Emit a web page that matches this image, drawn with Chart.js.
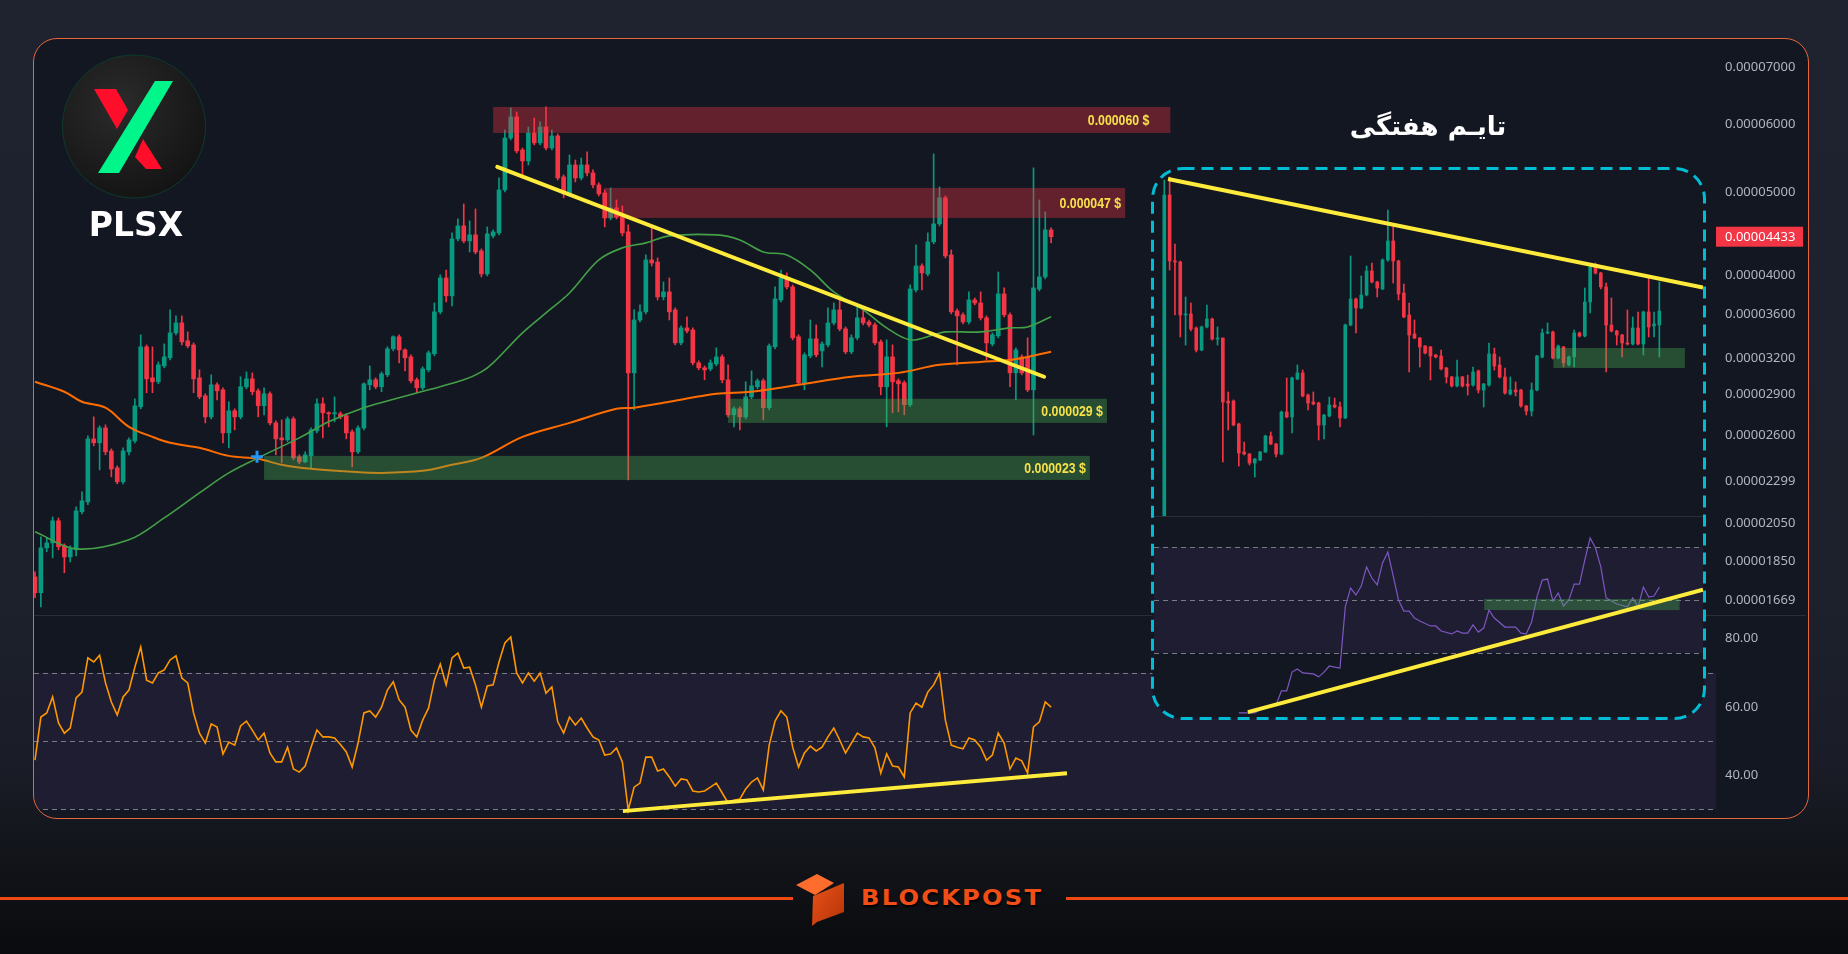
<!DOCTYPE html>
<html>
<head>
<meta charset="utf-8">
<script src="https://cdn.jsdelivr.net/npm/chart.js@4.4.1/dist/chart.umd.min.js"></script>
<style>
  html, body { margin: 0; padding: 0; }
  body {
    width: 1848px; height: 954px; overflow: hidden; position: relative;
    background: linear-gradient(180deg, #1f2330 0%, #1d212c 62%, #1a1d27 80%, #12141a 90%, #0a0b0e 100%);
    font-family: "Noto Sans", sans-serif;
  }
  #panel {
    position: absolute; left: 33px; top: 38px; width: 1774px; height: 779px;
    border: 1px solid #e5673c; border-radius: 24px; background: #131722; overflow: hidden;
  }
  canvas { position: absolute; display: block; }
  #ticker {
    position: absolute; left: 52px; top: 169px; width: 100px; text-align: center;
    font: bold 33px/33px "DejaVu Sans", sans-serif; color: #fff;
  }
  #title {
    position: absolute; left: 1300px; top: 108px; width: 256px; text-align: center;
    font: bold 26px/36px "DejaVu Sans", sans-serif; color: #fff; direction: rtl;
  }
  .rule { position: absolute; top: 897px; height: 3px; background: #ee4a12; }
  #bpText {
    position: absolute; left: 861px; top: 887px; font: bold 22px/22px "DejaVu Sans", sans-serif;
    letter-spacing: 2px; color: #f04e16; transform: scaleX(1.1); transform-origin: left center;
    text-shadow: 1px 2px 2px #000;
  }
</style>
</head>
<body>
<div id="panel">
  <canvas id="priceChart" width="1774" height="576" style="left:0;top:0"></canvas>
  <canvas id="rsiChart" width="1774" height="203" style="left:0;top:576px"></canvas>
  <svg width="146" height="146" viewBox="0 0 146 146" style="position:absolute;left:27px;top:15px">
    <defs>
      <radialGradient id="cg" cx="40%" cy="35%" r="70%">
        <stop offset="0" stop-color="#2b2b2b"/><stop offset="1" stop-color="#131313"/>
      </radialGradient>
    </defs>
    <circle cx="73" cy="72.5" r="71.5" fill="url(#cg)" stroke="#0e3b2c" stroke-width="1"/>
    <polygon points="33,35 55,35 67,56 56,75" fill="#ff0d2a"/>
    <polygon points="74,103 82,85 101,115 85,115" fill="#ff0d2a"/>
    <polygon points="94,27 112,27 58,119 37,119" fill="#00f58a"/>
  </svg>
  <div id="ticker">PLSX</div>
</div>

<svg width="557" height="555" style="position:absolute;left:1150px;top:166px">
  <rect x="2.5" y="2.5" width="552" height="550" rx="30" fill="#131722" stroke="#00bcd4" stroke-width="3" stroke-dasharray="12 7"/>
</svg>
<canvas id="wPriceChart" width="549" height="346" style="left:1154px;top:170px"></canvas>
<canvas id="wRsiChart" width="549" height="201" style="left:1154px;top:516px"></canvas>
<div id="title">تایـم هفتگی</div>

<div class="rule" style="left:0;width:793px"></div>
<div class="rule" style="left:1066px;width:782px"></div>
<svg width="60" height="60" style="position:absolute;left:790px;top:870px">
  <defs>
    <linearGradient id="bg1" x1="0" y1="0" x2="1" y2="1">
      <stop offset="0" stop-color="#e8521a"/><stop offset="1" stop-color="#b53306"/>
    </linearGradient>
  </defs>
  <polygon points="6,15 27,4 44,13 25,25" fill="#ff6d2e"/>
  <polygon points="23,26 54,13 54,42 27,52 22,56" fill="url(#bg1)"/>
</svg>
<div id="bpText">BLOCKPOST</div>

<script>
// prices are in units of 1e-8
const openP = [1776,1702,1920,1946,2065,1931,1874,1910,2116,2173, 2574,2547,2651,2492,2381,2293,2486,2560,2806,3297,
  3033,3001,3132,3201,3423,3516,3350,3314,3033,2890, 2731,2977,2937,2616,2776,2731,2961,3025,2929,2814,
  2906,2687,2581,2567,2716,2453,2420,2459,2630,2829, 2761,2754,2754,2739,2623,2486,2651,2977,3017,2961,
  3058,3279,3387,3270,3209,3017,2953,3099,3236,3622, 3968,3781,4407,4564,4383,4455,4267,4011,4443,4479,
  5027,5780,6118,5598,5435,5860,5705,5955,5628,5813, 5207,4974,5377,5192,5377,5263,5096,4987,4663,4790,
  4676,4491,3074,3544,3622,4165,4142,3771,3822,3641, 3332,3469,3450,3158,3116,3107,3149,3209,3017,2746,
  2791,2731,2882,2961,3009,2799,3297,3740,3968,3873, 3387,2993,3218,3368,3261,3314,3516,3641,3460,3253,
  3378,3564,3525,3497,3341,2961,3209,3009,2993,2821, 3842,4098,4011,4372,4589,4922,4221,3631,3593,3525,
  3740,3710,3564,3323,3396,3801,3593,3074,3209,3209, 2937,3852,3979,4515];
const highP = [1800,1978,1973,2087,2081,1941,1931,2144,2232,2595, 2731,2666,2673,2506,2394,2513,2581,2867,3405,3314,
  3297,3166,3323,3641,3583,3583,3432,3332,3099,2906, 3058,2993,2953,2844,2791,3042,3082,3074,2945,2953,
  2922,2702,2709,2731,2731,2466,2486,2651,2867,2875, 2768,2882,2768,2754,2637,2666,2993,3132,3033,3082,
  3297,3396,3405,3279,3227,3033,3124,3261,3710,4001, 4054,4479,4651,4841,4626,4777,4290,4552,4515,5192,
  5907,6267,6200,5628,5955,6100,6036,6285,5907,5844, 5235,5523,5449,5478,5568,5305,5123,5027,5055,4894,
  4816,4577,3641,3690,4221,4552,4188,3926,3968,3661, 3488,3574,3469,3175,3132,3183,3288,3227,3141,2806,
  2806,3001,3091,3025,3025,3323,3873,4054,4022,3894, 3405,3244,3544,3497,3341,3661,3710,3740,3478,3405,
  3670,3670,3544,3516,3359,3359,3314,3025,3009,3894, 4337,4120,4479,5538,5069,4948,4278,3651,3612,3822,
  3760,3822,3583,3423,4032,3863,3612,3288,3227,3378, 5334,4894,4739,4539];
const lowP = [1679,1638,1900,1869,1910,1796,1849,1879,2104,2156, 2526,2368,2466,2324,2281,2281,2466,2547,2791,2914,
  2914,2985,3116,3183,3405,3314,3288,2914,2867,2687, 2716,2859,2547,2513,2637,2716,2945,2898,2731,2746,
  2673,2466,2414,2554,2433,2407,2414,2381,2616,2581, 2659,2695,2716,2574,2387,2473,2637,2937,2945,2922,
  3042,3261,3158,3091,2993,2914,2937,3082,3218,3603, 3720,3680,4383,4360,4255,4233,3979,3990,4419,4455,
  5000,5750,5553,5192,5377,5674,5674,5598,5598,5164, 4922,4948,5137,5164,5221,5055,4948,4552,4638,4651,
  4443,2305,2783,3525,3603,4098,3740,3740,3544,3314, 3314,3423,3141,3099,3017,3091,3132,2993,2731,2659,
  2637,2716,2867,2945,2709,2783,3279,3720,3852,3359, 2977,2937,3201,3209,3124,3297,3497,3441,3236,3236,
  3359,3497,3478,3314,2898,2659,2761,2768,2746,2806, 3822,3842,3990,4349,4564,4188,3603,3141,3507,3507,
  3690,3544,3183,3305,3378,3574,2961,2859,3058,2922, 2602,3832,3958,4360];
const closeP = [1702,1920,1946,2065,1926,1874,1915,2121,2179,2574, 2547,2651,2486,2374,2293,2492,2567,2813,3297,3025,
  3001,3141,3209,3423,3516,3341,3305,3025,2882,2731, 2977,2929,2616,2776,2731,2961,3025,2922,2814,2906,
  2687,2574,2567,2716,2446,2420,2466,2637,2829,2761, 2754,2761,2731,2616,2486,2651,2985,3017,2961,3066,
  3279,3387,3270,3201,3009,2953,3107,3244,3622,3968, 3781,4407,4564,4383,4455,4255,4011,4467,4491,5027,
  5780,6118,5583,5435,5860,5705,5955,5628,5813,5192, 4974,5377,5192,5377,5263,5096,4974,4663,4790,4676,
  4479,3074,3544,3622,4165,4131,3771,3822,3622,3332, 3469,3441,3158,3116,3099,3158,3209,3017,2746,2791,
  2731,2882,2969,3009,2799,3305,3750,3968,3873,3378, 2993,3227,3368,3227,3323,3516,3641,3460,3253,3378,
  3564,3516,3497,3332,2961,3209,3001,2985,2821,3852, 4098,4022,4372,4589,4922,4210,3622,3583,3525,3740,
  3710,3564,3332,3405,3801,3593,3074,3270,3074,2937, 3863,3979,4515,4433];

const rsiMain = [44.4,57,58.2,62.9,55.3,52.3,53.8,62.6,64.3,74.3, 73.1,75.1,67,61.4,57.6,62.9,64.9,71.6,77.5,67.8,
  67,69.9,70.8,73.7,74.9,68.4,67,58.2,52.3,49.4, 55,54.1,46.2,49.7,48.8,54.4,55.8,53.2,50.3,52.3,
  46.5,43.9,43.9,48.2,41.8,40.9,42.7,48.2,53.2,51.2, 51.2,50.9,49,46.8,42.4,49.4,58.2,58.8,57,59.9,
  64.9,67.3,62,59.9,53.2,51.2,56.1,59.6,67.8,72.5, 66.4,74.3,75.7,71.3,71.6,66.4,59.9,66.1,66.4,73.1,
  78.7,80.4,69.9,67,69.9,67.5,69.9,64,65.8,55.6, 52.3,57,54.7,56.7,53.8,51.2,50.3,45.9,46.2,48,
  43.9,29.8,36.5,37.7,45.3,45.3,41.2,41.8,39.5,36.8, 38.9,38.6,35.4,35.1,35.4,36.5,37.7,34.8,31.9,32.7,
  33,36,38,39.2,35.7,48.8,55.8,58.8,57,48.2, 42.4,46.5,48.5,47.1,48.2,51.2,53.8,50.3,46.5,49.4,
  52.3,51.2,50.9,48,40.6,46.2,42.7,42.4,39.5,58.2, 61.1,59.9,64.3,66.4,69.9,56.1,48.8,48.2,47.7,50.9,
  50.3,48.2,44.4,45.9,52.3,49.4,41.8,45,44.2,40.6, 54.1,55.6,61.4,59.9];

// moving averages at some candle positions
const ma50Idx = [0,7,16,22,28,33,38,45,50,56,62,67,73,76,78,83,87,91,96,100,104,108,116,120,124,128,132,136,141,145,149,153,155,161,166,169,173];
const ma50Val = [2005,1915,1962,2081,2226,2349,2446,2581,2695,2799,2875,2937,3017,3082,3158,3423,3612,3811,4165,4302,4360,4443,4455,4395,4255,4221,4054,3822,3641,3469,3359,3405,3432,3432,3469,3478,3574];
const ma200Idx = [0,5,8,12,16,20,23,28,33,38,42,47,54,59,66,71,76,83,91,99,102,108,116,122,130,139,147,154,161,166,169,173];
const ma200Val = [3001,2922,2844,2799,2659,2588,2547,2513,2459,2440,2401,2375,2356,2349,2362,2401,2446,2588,2687,2791,2799,2844,2906,2922,2977,3042,3074,3141,3166,3183,3209,3253];

const priceTicks = [7000,6000,5000,4000,3600,3200,2900,2600,2299,2050,1850,1669];
const rsiTicks = [80,60,40];
const rsiLevels = [70,50,30];
const lastPrice = 4433;

// support / resistance boxes
const zoneFrom = [78, 96.9, 118, 39];
const zoneTo = [193.3, 185.6, 182.5, 179.6];
const zoneLow = [5860, 4663, 2687, 2305];
const zoneHigh = [6285, 5055, 2867, 2459];
const zoneText = ['0.000060 $', '0.000047 $', '0.000029 $', '0.000023 $'];
const zoneTextPad = [21, 4, 4, 4];
const zoneKind = ['res', 'res', 'sup', 'sup'];

const trendIdx = [78.7, 171.8];
const trendVal = [5348, 3042];
const rsiTrendIdx = [100.1, 175.7];
const rsiTrendVal = [29.5, 40.6];
const crossIdx = [37.8];
const crossVal = [2453];

// weekly inset
const wOpen = [0,7190,5712,5690,4502,4525,4211,3718,4234,4413, 3965,3987,2576,2576,2061,1434,1389,1187,1254,1434,
  1792,1613,1389,2330,2218,3069,3203,2710,2554,2531, 2038,2240,2486,2442,2195,4278,4861,4659,4950,5488,
  5242,5085,5734,6160,5712,4995,4502,4077,3987,3808, 3786,3606,3584,3315,3114,2912,3114,2957,2934,3248,
  2822,2934,3629,3382,3114,2733,2822,2822,2464,2352, 2822,3562,4099,4122,3539,3786,3382,3562,4099,4032,
  4794,5578,5443,5130,4278,4144,4054,3875,3853,4211, 3853,4570,4256,4278];
const wHigh = [7526,7594,6093,5712,4906,4771,4234,4256,4726,4435, 4234,3987,2778,2600,2080,1658,1400,1290,1450,1810,
  1882,1630,2350,3091,3110,3382,3270,2730,2778,2550, 2280,2666,2643,2554,4300,5824,4880,5376,5600,5667,
  5260,5760,6854,6474,5730,5197,4771,4390,4000,3820, 3800,3620,3718,3330,3130,3494,3130,3158,3338,3270,
  2970,3875,3763,3562,3315,3114,3002,2840,2480,2979, 3600,4189,4323,4140,3830,3800,3580,4166,4120,5107,
  5667,5667,5460,5219,4883,4160,4070,4614,4458,4570, 4590,5354,4570,5242];
const wLow = [0,5510,4502,4010,3830,4144,3674,3700,4211,3940, 3830,1210,1926,2020,1120,1370,1142,874,1240,1420,
  1600,1322,1370,2200,1859,3050,2670,2374,2490,1702, 1725,2220,2420,1994,2180,4260,4099,4640,4930,5220,
  4906,5070,5710,5219,4838,4440,3226,3970,3338,3630, 3046,3540,3270,2979,2890,2890,2890,2710,2910,2755,
  2442,2910,3270,3090,2730,2710,2688,2440,2262,2240, 2800,3540,4080,3520,3520,3338,3360,3338,4010,4010,
  4547,5420,5085,3226,4120,3830,3562,3830,3830,3830, 3606,4010,4010,3562];
const wClose = [7190,5712,5690,4502,4525,4189,3718,4234,4413,3965, 3975,2554,2531,2038,1411,1389,1187,1277,1434,1792,
  1613,1389,2330,2218,3091,3203,2688,2531,2509,2038, 2262,2486,2442,2195,4278,4861,4659,4950,5488,5242,
  5107,5734,6160,5712,4973,4458,4054,3987,3786,3651, 3584,3562,3293,3114,2912,3114,2912,2912,3226,2822,
  2957,3629,3360,3114,2755,2822,2778,2464,2352,2822, 3584,4099,4122,3539,3808,3427,3562,4099,4032,4794,
  5578,5443,5130,4278,4144,4054,3875,3853,4211,3853, 4570,4234,4301,4592];
const wRsiIdx = [14,17,19,21,22,23,24,25,26,28,29,30,31,32,33,34,35,36,37,38,39,40,41,42,43,44,45,46,47,48,
  50,51,52,54,55,56,57,58,59,60,61,62,64,66,67,68,69,70,71,72,73,74,75,76,77,78,79,80,81,82,83,84,85,87,88,89,90,91,92,93];
const wRsiVal = [7.4,7.4,9.6,10.4,15.7,15.7,22.8,24,22.5,22.1,21,22.8,25.1,24.7,24.3,47.4,54.5,51.9,55.3,62.5,
  58.3,55.7,64,68.1,59.1,50,45.8,45.8,43.2,42.1,40.2,40.2,38.3,37.2,38.3,37.5,37.5,40.6,37.9,39.4,
  46.2,43.2,39.8,39.8,37.5,37.2,41.7,51.1,57.5,57.9,49.6,52.6,47.7,50,56,56,65.1,73.4,69.6,62.5,
  50.8,49.6,48.5,47.4,50.8,47.4,54.9,51.1,51.5,54.9];
const wTrendIdx = [0.7, 101.2];
const wTrendVal = [7549, 5116];
const wRsiTrendIdx = [15.7, 101.2];
const wRsiTrendVal = [7.7, 53.9];
const wZoneIdx = [73.1, 97.8];
const wZoneVal = [3315, 3763];
const wRsiZoneIdx = [60.1, 96.8];
const wRsiZoneVal = [46.2, 50.4];

const UP = '#089981';
const DOWN = '#f23645';
const YELLOW = '#ffeb3b';
const RES_FILL = 'rgba(242,54,69,0.36)';
const SUP_FILL = 'rgba(76,175,80,0.36)';
const AXIS_TEXT = '#b2b5be';

function pts(xs, ys) {
  return xs.map((x, i) => ({ x: x, y: ys[i] }));
}

function candleSets(o, h, l, c, bodyW) {
  const col = (ctx) => (c[ctx.dataIndex] >= o[ctx.dataIndex] ? UP : DOWN);
  return [
    { type: 'bar', data: c.map((_, i) => ({ x: i, y: [l[i], h[i]] })), backgroundColor: col,
      barThickness: 1, grouped: false, order: 6 },
    { type: 'bar', data: c.map((_, i) => ({ x: i, y: [o[i], c[i]] })), backgroundColor: col,
      barThickness: bodyW, grouped: false, minBarLength: 1, order: 5 }
  ];
}

function lineSet(data, color, width, order, extra) {
  return Object.assign({ type: 'line', data: data, borderColor: color, borderWidth: width,
    pointRadius: 0, fill: false, order: order }, extra || {});
}

// boxes are drawn just before the dataset given by beforeIndex
const zonePlugin = {
  id: 'zones',
  beforeDatasetDraw(chart, args, opts) {
    if (!opts.zones || args.index !== opts.beforeIndex) return;
    const { ctx, chartArea: a, scales: { x, y } } = chart;
    ctx.save();
    ctx.beginPath();
    ctx.rect(a.left, a.top, a.right - a.left, a.bottom - a.top);
    ctx.clip();
    opts.zones.forEach((z) => {
      const x0 = x.getPixelForValue(z.from), x1 = x.getPixelForValue(z.to);
      const y0 = y.getPixelForValue(z.hi), y1 = y.getPixelForValue(z.lo);
      ctx.fillStyle = z.color;
      ctx.fillRect(x0, y0, x1 - x0, y1 - y0);
      if (z.text) {
        ctx.save();
        ctx.translate(x1 - z.pad, (y0 + y1) / 2 + 1);
        ctx.scale(0.82, 1);
        ctx.font = 'bold 15px "Liberation Sans", sans-serif';
        ctx.textAlign = 'right';
        ctx.textBaseline = 'middle';
        ctx.fillStyle = '#f7e14a';
        ctx.fillText(z.text, 0, 0);
        ctx.restore();
      }
    });
    ctx.restore();
  }
};

// RSI pane: band, dashed levels and the top separator
const rsiPanePlugin = {
  id: 'rsiPane',
  beforeDatasetsDraw(chart, args, opts) {
    if (!opts.levels) return;
    const { ctx, chartArea: a, scales: { y } } = chart;
    const top = y.getPixelForValue(opts.levels[0]);
    const bot = y.getPixelForValue(opts.levels[opts.levels.length - 1]);
    ctx.save();
    ctx.fillStyle = 'rgba(126,87,194,0.1)';
    ctx.fillRect(a.left, top, a.right - a.left, bot - top);
    ctx.strokeStyle = '#787b86';
    ctx.lineWidth = 1;
    ctx.setLineDash([5, 4]);
    opts.levels.forEach((v) => {
      const p = Math.round(y.getPixelForValue(v)) + 0.5;
      ctx.beginPath();
      ctx.moveTo(a.left, p);
      ctx.lineTo(a.right, p);
      ctx.stroke();
    });
    ctx.setLineDash([]);
    ctx.strokeStyle = '#2a2e39';
    ctx.beginPath();
    ctx.moveTo(0, 0.5);
    ctx.lineTo(chart.width - (opts.sepInset || 0), 0.5);
    ctx.stroke();
    ctx.restore();
  }
};

const lastPricePlugin = {
  id: 'lastPrice',
  afterDraw(chart, args, opts) {
    if (!opts.value) return;
    const { ctx, chartArea: a, scales: { y } } = chart;
    const py = y.getPixelForValue(opts.value);
    ctx.save();
    ctx.fillStyle = DOWN;
    ctx.fillRect(a.right, py - 10, 87, 20);
    ctx.fillStyle = '#ffffff';
    ctx.font = '13px "Noto Sans", sans-serif';
    ctx.textBaseline = 'middle';
    ctx.fillText((opts.value / 1e8).toFixed(8), a.right + 9, py + 0.5);
    ctx.restore();
  }
};

Chart.register(zonePlugin, rsiPanePlugin, lastPricePlugin);

const baseOpts = {
  responsive: false, animation: false, events: [],
  layout: { padding: 0, autoPadding: false },
  plugins: { legend: { display: false }, tooltip: { enabled: false } }
};

function rightAxis(type, min, max, ticks, fmt) {
  return {
    type: type, position: 'right', min: min, max: max,
    grid: { display: false, drawTicks: false }, border: { display: false },
    afterBuildTicks: (s) => { s.ticks = ticks.map((v) => ({ value: v })); },
    afterFit: (s) => { s.width = 92; s.paddingTop = 0; s.paddingBottom = 0; },
    ticks: { color: AXIS_TEXT, font: { family: '"Noto Sans", sans-serif', size: 13 }, padding: 9,
      autoSkip: false, callback: fmt }
  };
}

const mainX = { type: 'linear', offset: false, min: -0.17, max: 286.2, display: false };

// main price chart
const zones = zoneFrom.map((f, i) => ({
  from: f, to: zoneTo[i], lo: zoneLow[i], hi: zoneHigh[i], text: zoneText[i], pad: zoneTextPad[i],
  color: zoneKind[i] === 'res' ? RES_FILL : SUP_FILL
}));

new Chart(document.getElementById('priceChart'), {
  type: 'bar',
  data: {
    datasets: [
      ...candleSets(openP, highP, lowP, closeP, 4),
      lineSet(pts(ma200Idx, ma200Val), '#ff6d00', 2, 4, { tension: 0.35 }),
      lineSet(pts(ma50Idx, ma50Val), '#43a047', 1.6, 3, { tension: 0.35 }),
      lineSet(pts(trendIdx, trendVal), YELLOW, 4, 1, { borderCapStyle: 'round' }),
      { type: 'line', data: pts(crossIdx, crossVal), showLine: false, pointStyle: 'cross',
        pointRadius: 6, pointBorderWidth: 3, pointBorderColor: '#2196f3', order: 0 }
    ]
  },
  options: Object.assign({}, baseOpts, {
    plugins: Object.assign({}, baseOpts.plugins, {
      zones: { zones: zones, beforeIndex: 4 },
      lastPrice: { value: lastPrice }
    }),
    scales: {
      x: mainX,
      y: rightAxis('logarithmic', 1603, 7544, priceTicks, (v) => (v / 1e8).toFixed(8))
    }
  })
});

// main RSI chart
new Chart(document.getElementById('rsiChart'), {
  type: 'line',
  data: {
    datasets: [
      lineSet(rsiMain.map((v, i) => ({ x: i, y: v })), '#ff9800', 1.6, 2),
      lineSet(pts(rsiTrendIdx, rsiTrendVal), YELLOW, 4, 1)
    ]
  },
  options: Object.assign({}, baseOpts, {
    plugins: Object.assign({}, baseOpts.plugins, {
      rsiPane: { levels: rsiLevels, sepInset: 2 }
    }),
    scales: {
      x: mainX,
      y: rightAxis('linear', 27.49, 86.84, rsiTicks, (v) => v.toFixed(2))
    }
  })
});

// weekly inset: price pane
const wX = { type: 'linear', offset: false, min: -1.935, max: 101.2, display: false };

new Chart(document.getElementById('wPriceChart'), {
  type: 'bar',
  data: {
    datasets: [
      ...candleSets(wOpen, wHigh, wLow, wClose, 3),
      lineSet(pts(wTrendIdx, wTrendVal), YELLOW, 4, 1)
    ]
  },
  options: Object.assign({}, baseOpts, {
    plugins: Object.assign({}, baseOpts.plugins, {
      zones: { zones: [{ from: wZoneIdx[0], to: wZoneIdx[1], lo: wZoneVal[0], hi: wZoneVal[1], color: SUP_FILL }],
        beforeIndex: 2 }
    }),
    scales: { x: wX, y: { type: 'linear', min: 0, max: 7750, display: false } }
  })
});

// weekly inset: RSI pane
new Chart(document.getElementById('wRsiChart'), {
  type: 'line',
  data: {
    datasets: [
      lineSet(pts(wRsiIdx, wRsiVal), '#7e57c2', 1.2, 2),
      lineSet(pts(wRsiTrendIdx, wRsiTrendVal), YELLOW, 4, 1)
    ]
  },
  options: Object.assign({}, baseOpts, {
    plugins: Object.assign({}, baseOpts.plugins, {
      rsiPane: { levels: rsiLevels },
      zones: { zones: [{ from: wRsiZoneIdx[0], to: wRsiZoneIdx[1], lo: wRsiZoneVal[0], hi: wRsiZoneVal[1], color: SUP_FILL }],
        beforeIndex: 1 }
    }),
    scales: { x: wX, y: { type: 'linear', min: 5.85, max: 81.7, display: false } }
  })
});
</script>
</body>
</html>
